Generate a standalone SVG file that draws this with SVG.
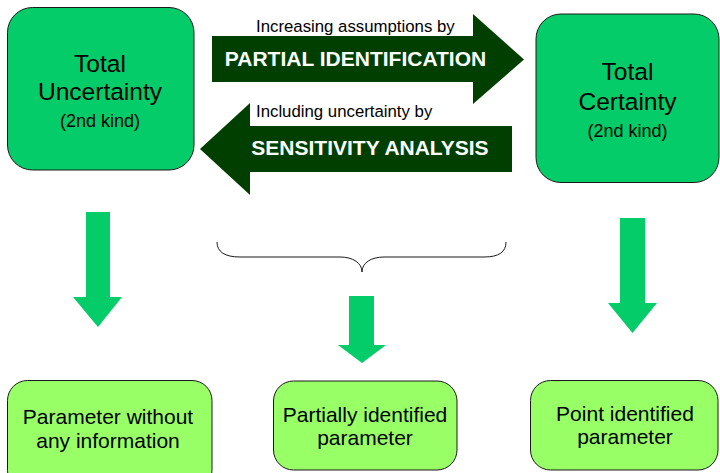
<svg xmlns="http://www.w3.org/2000/svg" width="720" height="473" viewBox="0 0 720 473">
<style>
.top{fill:#03CC69;stroke:#1a1a1a;stroke-width:1}
.bot{fill:#99FF66;stroke:#1a1a1a;stroke-width:1}
.dark{fill:#003F00}
.down{fill:#03CC69}
text{font-family:"Liberation Sans",Arial,sans-serif;fill:#000;text-anchor:middle}
.big{font-size:24.5px}
.kind{font-size:18px}
.small{font-size:16.8px;text-anchor:start}
.bold{font-size:21px;font-weight:bold;fill:#fff}
.lbl{font-size:21px}
</style>
<rect width="720" height="473" fill="#fff"/>
<g id="total-uncertainty">
<rect class="top" x="7.5" y="7.5" width="186.5" height="162.5" rx="25"/>
<text class="big" x="100" y="72">Total</text>
<text class="big" x="100" y="100">Uncertainty</text>
<text class="kind" x="100" y="127">(2nd kind)</text>
</g>
<g id="total-certainty">
<rect class="top" x="536" y="14" width="183" height="168.5" rx="25"/>
<text class="big" x="627.5" y="80">Total</text>
<text class="big" x="627.5" y="110">Certainty</text>
<text class="kind" x="627.5" y="137">(2nd kind)</text>
</g>
<g id="partial-identification">
<polygon class="dark" points="212,36 473,36 473,14 524,59.5 473,104 473,82 212,82"/>
<text class="small" x="256" y="32">Increasing assumptions by</text>
<text class="bold" x="355.5" y="65.5">PARTIAL IDENTIFICATION</text>
</g>
<g id="sensitivity-analysis">
<polygon class="dark" points="512,126 250,126 250,103 200,149 250,195 250,172 512,172"/>
<text class="small" x="256" y="117">Including uncertainty by</text>
<text class="bold" x="370" y="155">SENSITIVITY ANALYSIS</text>
</g>
<g id="param-no-info">
<rect class="bot" x="7.5" y="380.5" width="204.5" height="110" rx="20"/>
<text class="lbl" x="108" y="424">Parameter without</text>
<text class="lbl" x="108" y="448">any information</text>
</g>
<g id="param-partial">
<rect class="bot" x="273.5" y="381" width="183.5" height="89" rx="20"/>
<text class="lbl" x="365" y="422">Partially identified</text>
<text class="lbl" x="365" y="445">parameter</text>
</g>
<g id="param-point">
<rect class="bot" x="530.5" y="380.5" width="187.5" height="89.5" rx="20"/>
<text class="lbl" x="625" y="421">Point identified</text>
<text class="lbl" x="625" y="444">parameter</text>
</g>
<g id="connectors">
<polygon class="down" points="86,212 110,212 110,297 122,297 98,327 73,297 86,297"/>
<polygon class="down" points="349,296 374,296 374,345 386,345 362,363 338,345 349,345"/>
<polygon class="down" points="620,218 645,218 645,303 657,303 632.5,333 608,303 620,303"/>
<path d="M217,242 C217,252 225,257 240,257 L340,257 C353,257 362,263 362,272 C362,263 371,257 384,257 L484,257 C499,257 506,252 506,242" fill="none" stroke="#1a1a1a" stroke-width="1"/>
</g>
</svg>
